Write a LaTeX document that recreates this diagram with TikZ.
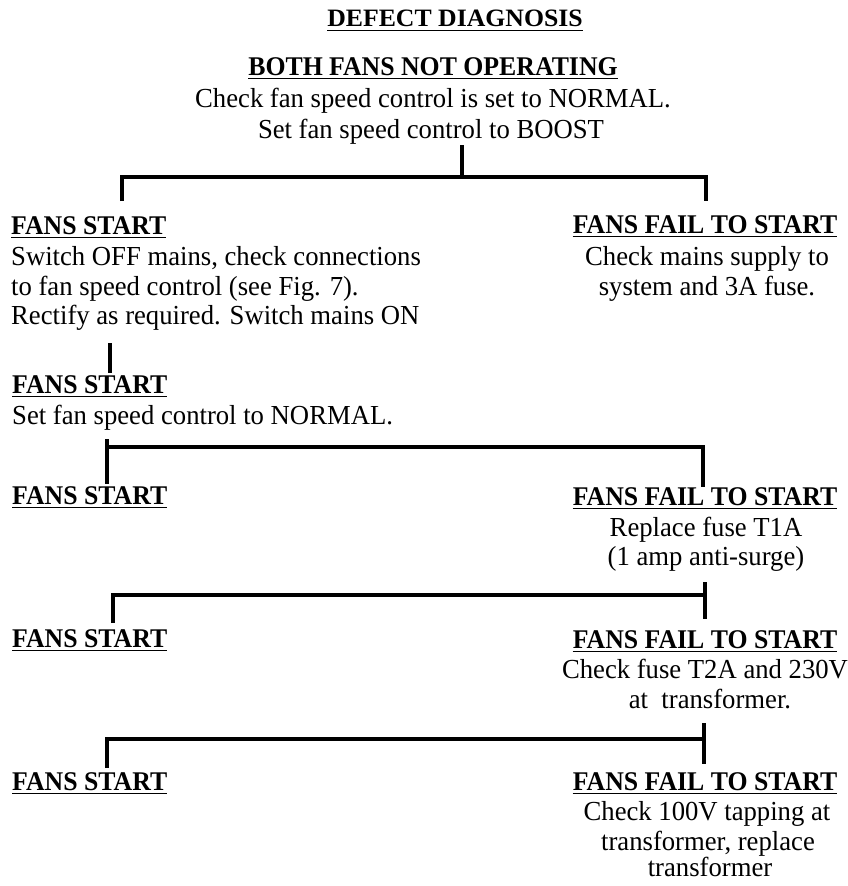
\documentclass[tikz,border=0pt]{standalone}
\usepackage{fontspec}
\setmainfont{Liberation Serif}[FakeStretch=0.97]
\newfontfamily\hdfont{Liberation Serif}[FakeStretch=0.955]
\newfontfamily\ttlfont{Liberation Serif}[FakeStretch=1.03]
\begin{document}
\begin{tikzpicture}[x=1pt,y=-1pt,
  body/.style={inner sep=0pt,font=\fontsize{27.5}{30}\selectfont},
  head/.style={inner sep=0pt,font=\hdfont\bfseries\fontsize{27}{30}\selectfont},
  ttl/.style={inner sep=0pt,font=\ttlfont\bfseries\fontsize{25}{28}\selectfont},
  ul/.style={line width=1.4pt},
  conn/.style={line width=4pt,line join=miter,line cap=butt}]
\useasboundingbox (0,0) rectangle (848,886);
\newcommand\ulin[1]{\draw[ul] ([yshift=-3.5pt]#1.base west) -- ([yshift=-3.5pt]#1.base east);}
% titles
\node[ttl,anchor=base] (title) at (455,27) {DEFECT DIAGNOSIS}; \ulin{title}
\node[head,anchor=base] (both) at (433,75) {BOTH FANS NOT OPERATING}; \ulin{both}
\node[body,anchor=base] (c1) at (433,107) {Check fan speed control is set to NORMAL.};
\node[body,anchor=base] (c2) at (431,138) {Set fan speed control to BOOST};
% row 2
\node[head,anchor=base west] (s2) at (11,234) {FANS START}; \ulin{s2}
\node[head,anchor=base] (f2) at (705,233) {FANS FAIL TO START}; \ulin{f2}
\node[body,anchor=base west] (s2a) at (11,265) {Switch OFF mains, check connections};
\node[body,anchor=base west] (s2b) at (11,295) {to fan speed control (see Fig. 7).};
\node[body,anchor=base west] (s2c) at (11,324) {Rectify as required. Switch mains ON};
\node[body,anchor=base] (f2a) at (707,265) {Check mains supply to};
\node[body,anchor=base] (f2b) at (707,295) {system and 3A fuse.};
% row 3
\node[head,anchor=base west] (s3) at (12,393) {FANS START}; \ulin{s3}
\node[body,anchor=base west] (s3a) at (12,424) {Set fan speed control to NORMAL.};
% row 4
\node[head,anchor=base west] (s4) at (12,504) {FANS START}; \ulin{s4}
\node[head,anchor=base] (f4) at (705,505) {FANS FAIL TO START}; \ulin{f4}
\node[body,anchor=base] (f4a) at (706,536) {Replace fuse T1A};
\node[body,anchor=base] (f4b) at (706,565) {(1 amp anti-surge)};
% row 5
\node[head,anchor=base west] (s5) at (12,647) {FANS START}; \ulin{s5}
\node[head,anchor=base] (f5) at (705,648) {FANS FAIL TO START}; \ulin{f5}
\node[body,anchor=base] (f5a) at (705,678) {Check fuse T2A and 230V};
\node[body,anchor=base] (f5b) at (710,708) {at\ \ transformer.};
% row 6
\node[head,anchor=base west] (s6) at (12,790) {FANS START}; \ulin{s6}
\node[head,anchor=base] (f6) at (705,790) {FANS FAIL TO START}; \ulin{f6}
\node[body,anchor=base] (f6a) at (707,820) {Check 100V tapping at};
\node[body,anchor=base] (f6b) at (708,850) {transformer, replace};
\node[body,anchor=base] (f6c) at (710,876) {transformer};
% connector coordinates
\coordinate (a0) at (462,145); \coordinate (aj) at (462,177);
\coordinate (al) at (122,177); \coordinate (ar) at (706,177);
\coordinate (al2) at (122,201); \coordinate (ar2) at (706,201);
\coordinate (b0) at (110,343); \coordinate (b1) at (110,373);
\coordinate (c0) at (107,439); \coordinate (cl) at (107,447); \coordinate (cl2) at (107,484);
\coordinate (cr) at (703,447); \coordinate (cr2) at (703,487);
\coordinate (dl) at (113,595); \coordinate (dl2) at (113,623);
\coordinate (d0) at (705,582); \coordinate (dr) at (705,595); \coordinate (dr2) at (705,619);
\coordinate (el) at (107,739); \coordinate (el2) at (107,768);
\coordinate (e0) at (704,723); \coordinate (er) at (704,739); \coordinate (er2) at (704,764);
% connectors
\draw[conn] (a0) -- (aj);
\draw[conn] (al2) -- (al) -- (ar) -- (ar2);
\draw[conn] (b0) -- (b1);
\draw[conn] (c0) -- (cl2);
\draw[conn] (cl) -- (cr) -- (cr2);
\draw[conn] (dl2) -- (dl) -- (dr);
\draw[conn] (d0) -- (dr2);
\draw[conn] (el2) -- (el) -- (er);
\draw[conn] (e0) -- (er2);
\end{tikzpicture}
\end{document}
